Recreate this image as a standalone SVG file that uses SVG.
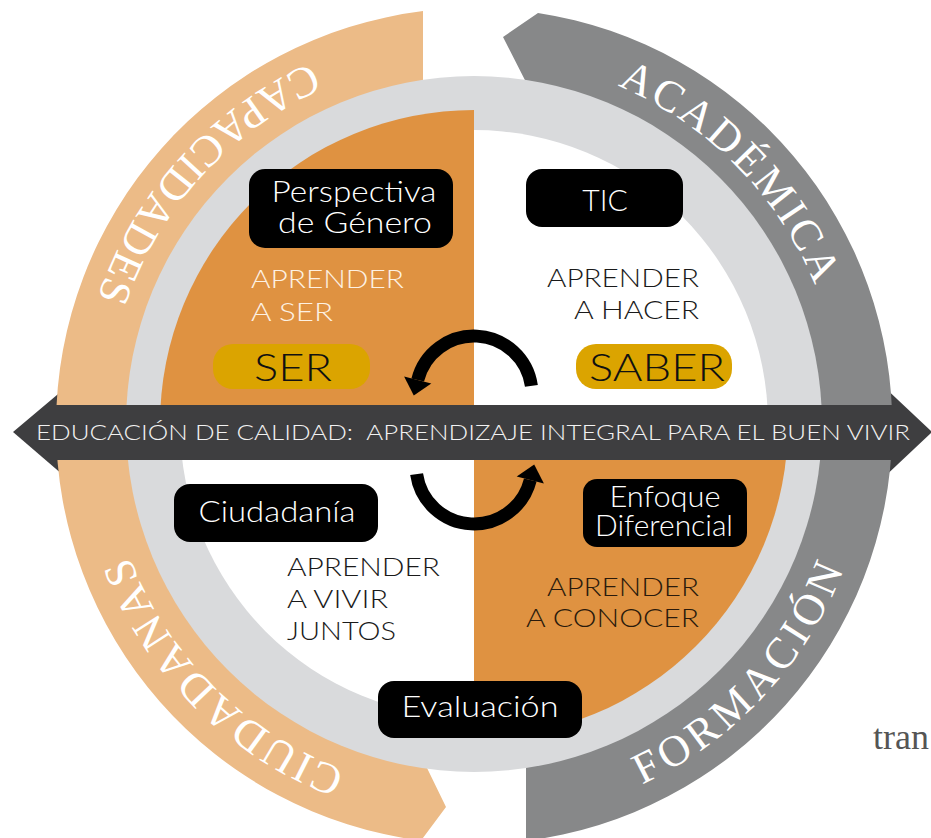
<svg xmlns="http://www.w3.org/2000/svg" xmlns:xlink="http://www.w3.org/1999/xlink" width="931" height="838" viewBox="0 0 931 838">
<style>
.sans{font-family:Lato,"Open Sans","Liberation Sans",sans-serif;font-weight:300}
.arc{font-family:"Liberation Serif","DejaVu Serif",serif;font-size:44px;fill:#ffffff}
.box{fill:#000000}
.boxt{fill:#ffffff;font-size:30px;text-anchor:middle}
.pill{fill:#dba400}
.pillt{fill:#111111;font-size:38px;text-anchor:middle}
.apr{font-size:25px}
.arrow{fill:none;stroke:#000000;stroke-width:13}
</style>
<defs>
<path id="pAcad" d="M382,68.3 A368.5,368.5 0 0 1 829.1,523.5"/>
<path id="pCiud" d="M569.4,781 A368.5,368.5 0 0 1 118,329.6"/>
<path id="pForm" d="M386.1,812.1 A397.5,397.5 0 0 0 853.7,307.5"/>
<path id="pCapa" d="M556.6,36.2 A397.5,397.5 0 0 0 96,547.8"/>
<g id="circArrow">
<path class="arrow" d="M531.4,385.9 A58,58 0 0 0 417.7,380"/>
<polygon points="404.1,376.6 431.3,383.4 413.8,395.5" fill="#000000"/>
</g>
</defs>
<rect width="931" height="838" fill="#ffffff"/>
<g id="banner-heads">
<polygon points="70,384 13,432 70,481" fill="#3e3e40"/>
<polygon points="880,383 932,432 880,481" fill="#3e3e40"/>
</g>
<g id="ring-capacidades">
<path d="M423,11.1 A418,418 0 0 0 421,840.6 L446,807 L419,751.5 L474,424 L423,100 Z" fill="#ecbb87"/>
</g>
<g id="ring-academica">
<path d="M538,12.9 A418,418 0 0 1 526,840.8 L526,700 L474,424 L531,92 L503,37 Z" fill="#878889"/>
</g>
<g id="core">
<circle cx="474" cy="424" r="348" fill="#d9dadc"/>
<circle cx="474" cy="424" r="294" fill="#ffffff"/>
<path d="M474,424 L474,110 A314,314 0 0 0 160,424 Z" fill="#df9241"/>
<path d="M474,424 L788,424 A314,314 0 0 1 474,738 Z" fill="#df9241"/>
</g>
<g id="arc-labels">
<text class="arc" letter-spacing="2.7"><textPath xlink:href="#pAcad" href="#pAcad" startOffset="50%" text-anchor="middle">ACADÉMICA</textPath></text>
<text class="arc" letter-spacing="2.5"><textPath xlink:href="#pCiud" href="#pCiud" startOffset="50%" text-anchor="middle">CIUDADANAS</textPath></text>
<text class="arc" letter-spacing="4.8"><textPath xlink:href="#pForm" href="#pForm" startOffset="50%" text-anchor="middle">FORMACIÓN</textPath></text>
<text class="arc" letter-spacing="2.2"><textPath xlink:href="#pCapa" href="#pCapa" startOffset="50%" text-anchor="middle">CAPACIDADES</textPath></text>
</g>
<g id="banner">
<rect x="50" y="405" width="850" height="55" fill="#3e3e40"/>
<text class="sans" x="36" y="440" font-size="21" fill="#f2f2f2" textLength="874" lengthAdjust="spacingAndGlyphs" xml:space="preserve">EDUCACIÓN DE CALIDAD:  APRENDIZAJE INTEGRAL PARA EL BUEN VIVIR</text>
</g>
<g id="connectors">
<use href="#circArrow" xlink:href="#circArrow"/>
<use href="#circArrow" xlink:href="#circArrow" transform="rotate(180 474 430)"/>
</g>
<g id="node-perspectiva">
<rect class="box" x="249" y="169" width="204" height="79" rx="16"/>
<text class="sans boxt" x="354" y="202" font-size="25" textLength="165" lengthAdjust="spacingAndGlyphs">Perspectiva</text>
<text class="sans boxt" x="355" y="233" font-size="25" textLength="154" lengthAdjust="spacingAndGlyphs">de Género</text>
</g>
<g id="node-tic">
<rect class="box" x="526" y="169" width="157" height="58" rx="16"/>
<text class="sans boxt" x="605" y="211">TIC</text>
</g>
<g id="node-ciudadania">
<rect class="box" x="174" y="484" width="204" height="58" rx="16"/>
<text class="sans boxt" x="277" y="522" textLength="157" lengthAdjust="spacingAndGlyphs">Ciudadanía</text>
</g>
<g id="node-evaluacion">
<rect class="box" x="378" y="681" width="204" height="57" rx="16"/>
<text class="sans boxt" x="480" y="717" textLength="157" lengthAdjust="spacingAndGlyphs">Evaluación</text>
</g>
<g id="node-enfoque">
<rect class="box" x="583" y="479" width="164" height="68" rx="14"/>
<text class="sans boxt" x="665" y="507" font-size="23" textLength="111" lengthAdjust="spacingAndGlyphs">Enfoque</text>
<text class="sans boxt" x="664" y="536" font-size="23" textLength="138" lengthAdjust="spacingAndGlyphs">Diferencial</text>
</g>
<g id="node-ser">
<rect class="pill" x="213" y="344" width="157" height="45" rx="20"/>
<text class="sans pillt" x="293" y="381" textLength="78" lengthAdjust="spacingAndGlyphs">SER</text>
</g>
<g id="node-saber">
<rect class="pill" x="576" y="344" width="156" height="45" rx="20"/>
<text class="sans pillt" x="657" y="381" textLength="136" lengthAdjust="spacingAndGlyphs">SABER</text>
</g>
<g id="label-ser">
<text class="sans apr" x="251" y="288" fill="#fdf1e3" textLength="153" lengthAdjust="spacingAndGlyphs">APRENDER</text>
<text class="sans apr" x="251" y="321" fill="#fdf1e3" textLength="82" lengthAdjust="spacingAndGlyphs">A SER</text>
</g>
<g id="label-hacer">
<text class="sans apr" x="547" y="287" fill="#1a1a1a" textLength="152" lengthAdjust="spacingAndGlyphs">APRENDER</text>
<text class="sans apr" x="574" y="319" fill="#1a1a1a" textLength="125" lengthAdjust="spacingAndGlyphs">A HACER</text>
</g>
<g id="label-vivir">
<text class="sans apr" x="287" y="576" fill="#1a1a1a" textLength="153" lengthAdjust="spacingAndGlyphs">APRENDER</text>
<text class="sans apr" x="287" y="608" fill="#1a1a1a" textLength="101" lengthAdjust="spacingAndGlyphs">A VIVIR</text>
<text class="sans apr" x="287" y="640" fill="#1a1a1a" textLength="109" lengthAdjust="spacingAndGlyphs">JUNTOS</text>
</g>
<g id="label-conocer">
<text class="sans apr" x="547" y="596" fill="#2a1a0c" textLength="152" lengthAdjust="spacingAndGlyphs">APRENDER</text>
<text class="sans apr" x="526" y="627" fill="#2a1a0c" textLength="173" lengthAdjust="spacingAndGlyphs">A CONOCER</text>
</g>
<text x="873" y="749" font-family="'Liberation Serif',serif" font-size="36" fill="#555555">tran</text>
</svg>
